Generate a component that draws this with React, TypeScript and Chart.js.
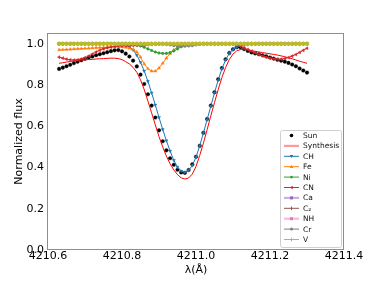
import React, { useEffect, useRef } from 'react';
import { Chart, registerables } from 'chart.js';

Chart.register(...registerables);

// ---- data ----
const wavelengths = [
  4210.63, 4210.64, 4210.65, 4210.66, 4210.67, 4210.68, 4210.69,
  4210.70, 4210.71, 4210.72, 4210.73, 4210.74, 4210.75, 4210.76, 4210.77, 4210.78, 4210.79,
  4210.80, 4210.81, 4210.82, 4210.83, 4210.84, 4210.85, 4210.86, 4210.87, 4210.88, 4210.89,
  4210.90, 4210.91, 4210.92, 4210.93, 4210.94, 4210.95, 4210.96, 4210.97, 4210.98, 4210.99,
  4211.00, 4211.01, 4211.02, 4211.03, 4211.04, 4211.05, 4211.06, 4211.07, 4211.08, 4211.09,
  4211.10, 4211.11, 4211.12, 4211.13, 4211.14, 4211.15, 4211.16, 4211.17, 4211.18, 4211.19,
  4211.20, 4211.21, 4211.22, 4211.23, 4211.24, 4211.25, 4211.26, 4211.27, 4211.28, 4211.29, 4211.30,
];

const sunFlux = [
  0.878, 0.884, 0.891, 0.898, 0.906, 0.913, 0.920,
  0.927, 0.933, 0.938, 0.944, 0.949, 0.954, 0.959, 0.964, 0.968, 0.969,
  0.963, 0.952, 0.938, 0.918, 0.890, 0.850, 0.805, 0.755, 0.700, 0.642,
  0.580, 0.527, 0.483, 0.445, 0.413, 0.389, 0.376, 0.374, 0.388, 0.415,
  0.452, 0.505, 0.568, 0.635, 0.700, 0.765, 0.828, 0.882, 0.925, 0.955,
  0.973, 0.983, 0.983, 0.974, 0.965, 0.958, 0.953, 0.949, 0.944, 0.939,
  0.933, 0.928, 0.922, 0.918, 0.913, 0.907, 0.899, 0.891, 0.880, 0.870, 0.860,
];

const synthesisFlux = [
  0.905, 0.908, 0.911, 0.914, 0.917, 0.919, 0.921,
  0.922, 0.923, 0.924, 0.926, 0.927, 0.928, 0.929, 0.930, 0.930, 0.928,
  0.923, 0.913, 0.902, 0.885, 0.862, 0.825, 0.778, 0.722, 0.665, 0.607,
  0.550, 0.500, 0.455, 0.418, 0.388, 0.365, 0.350, 0.344, 0.349, 0.368,
  0.405, 0.458, 0.518, 0.583, 0.650, 0.715, 0.778, 0.836, 0.885, 0.923,
  0.950, 0.965, 0.972, 0.973, 0.971, 0.967, 0.963, 0.960, 0.957, 0.954,
  0.951, 0.948, 0.945, 0.941, 0.937, 0.932, 0.927, 0.921, 0.915, 0.910, 0.905,
];

const chFlux = [
  1, 1, 1, 1, 1, 1, 1,
  1, 1, 1, 1, 1, 1, 1, 1, 1, 0.999,
  0.997, 0.993, 0.985, 0.970, 0.945, 0.910, 0.868, 0.818, 0.762, 0.703,
  0.643, 0.585, 0.530, 0.480, 0.435, 0.402, 0.383, 0.377, 0.386, 0.410,
  0.450, 0.505, 0.567, 0.632, 0.697, 0.762, 0.824, 0.878, 0.922, 0.953,
  0.972, 0.984, 0.990, 0.994, 0.996, 0.998, 0.999, 1, 1, 1,
  1, 1, 1, 1, 1, 1, 1, 1, 1, 1, 1,
];

const feFlux = [
  0.970, 0.971, 0.972, 0.973, 0.974, 0.975, 0.976,
  0.977, 0.978, 0.979, 0.980, 0.981, 0.982, 0.983, 0.984, 0.985, 0.985,
  0.984, 0.982, 0.978, 0.972, 0.960, 0.935, 0.902, 0.879, 0.867, 0.867,
  0.882, 0.905, 0.930, 0.952, 0.970, 0.984, 0.993, 0.997, 0.999, 1,
  1, 1, 1, 1, 1, 1, 1, 1, 1, 1,
  1, 1, 1, 1, 1, 1, 1, 1, 1, 1,
  1, 1, 1, 1, 1, 1, 1, 1, 1, 1, 1,
];

const niFlux = [
  1, 1, 1, 1, 1, 1, 1,
  1, 1, 1, 1, 1, 1, 1, 1, 1, 1,
  1, 0.999, 0.998, 0.996, 0.993, 0.989, 0.983, 0.975, 0.967, 0.960,
  0.955, 0.953, 0.953, 0.957, 0.965, 0.975, 0.985, 0.993, 0.997, 1,
  1, 1, 1, 1, 1, 1, 1, 1, 1, 1,
  1, 1, 1, 1, 1, 1, 1, 1, 1, 1,
  1, 1, 1, 1, 1, 1, 1, 1, 1, 1, 1,
];

const cnFlux = [
  0.935, 0.930, 0.925, 0.922, 0.921, 0.922, 0.926,
  0.932, 0.940, 0.950, 0.960, 0.968, 0.975, 0.980, 0.984, 0.987, 0.989,
  0.990, 0.990, 0.990, 0.991, 0.992, 0.993, 0.994, 0.995, 0.996, 0.997,
  0.998, 0.999, 1, 1, 1, 1, 1, 1, 1, 1,
  1, 1, 1, 1, 1, 1, 1, 1, 1, 1,
  0.998, 0.994, 0.988, 0.980, 0.972, 0.964, 0.956, 0.948, 0.941, 0.935,
  0.930, 0.927, 0.925, 0.925, 0.928, 0.933, 0.940, 0.948, 0.958, 0.968, 0.978,
];

const caFlux = [
  1, 1, 1, 1, 1, 1, 1,
  1, 1, 1, 1, 1, 1, 1, 1, 1, 1,
  1, 1, 1, 0.998, 0.995, 0.994, 0.995, 0.998, 1, 1,
  1, 1, 1, 1, 1, 1, 1, 1, 1, 1,
  1, 1, 1, 1, 1, 1, 1, 1, 1, 1,
  1, 1, 1, 1, 1, 1, 1, 1, 1, 1,
  1, 1, 1, 1, 1, 1, 1, 1, 1, 1, 1,
];

const c2Flux = [
  1, 1, 1, 1, 1, 1, 1,
  1, 1, 1, 1, 1, 1, 1, 1, 1, 1,
  1, 1, 1, 1, 1, 1, 1, 1, 1, 1,
  1, 1, 1, 1, 1, 1, 1, 1, 1, 1,
  1, 1, 1, 1, 1, 1, 1, 1, 1, 1,
  1, 1, 1, 1, 1, 1, 1, 1, 1, 1,
  1, 1, 1, 1, 1, 1, 1, 1, 1, 1, 1,
];

const nhFlux = [
  1, 1, 1, 1, 1, 1, 1,
  1, 1, 1, 1, 1, 1, 1, 1, 1, 1,
  1, 1, 1, 1, 1, 1, 1, 1, 1, 1,
  1, 1, 1, 1, 1, 1, 1, 1, 1, 1,
  1, 1, 1, 1, 1, 1, 1, 1, 1, 1,
  1, 1, 1, 1, 1, 1, 1, 1, 1, 1,
  1, 1, 1, 1, 1, 1, 1, 1, 1, 1, 1,
];

const crFlux = [
  1, 1, 1, 1, 1, 1, 1,
  1, 1, 1, 1, 1, 1, 1, 1, 1, 1,
  1, 1, 1, 1, 1, 1, 1, 1, 1, 1,
  1, 1, 0.998, 0.995, 0.992, 0.990, 0.989, 0.989, 0.990, 0.992,
  0.995, 0.998, 1, 1, 1, 1, 1, 1, 1, 1,
  1, 1, 1, 1, 1, 1, 1, 1, 1, 1,
  1, 1, 1, 1, 1, 1, 1, 1, 1, 1, 1,
];

const vFlux = [
  1, 1, 1, 1, 1, 1, 1,
  1, 1, 1, 1, 1, 1, 1, 1, 1, 1,
  1, 1, 1, 1, 1, 1, 1, 1, 1, 1,
  1, 1, 1, 1, 1, 1, 1, 1, 1, 1,
  1, 1, 1, 1, 1, 1, 1, 1, 1, 1,
  1, 1, 1, 1, 1, 1, 1, 1, 1, 1,
  1, 1, 1, 1, 1, 1, 1, 1, 1, 1, 1,
];

const xTicks = [4210.6, 4210.8, 4211.0, 4211.2, 4211.4];
const yTicks = [0.0, 0.2, 0.4, 0.6, 0.8, 1.0];

const seriesLabels = ['Sun', 'Synthesis', 'CH', 'Fe', 'Ni', 'CN', 'Ca', 'C₂', 'NH', 'Cr', 'V'];
const seriesValues = [sunFlux, synthesisFlux, chFlux, feFlux, niFlux, cnFlux, caFlux, c2Flux, nhFlux, crFlux, vFlux];

// ---- styles ----
type Sty = { color: string; line: boolean; shape: string; plotShape?: string; r: number; legendLine?: string; legendWidth?: number };
const styles: Sty[] = [
  { color: '#000000', line: false, shape: 'circle', r: 1.8 },
  { color: '#ff0000', line: true, shape: 'none', r: 0, legendLine: 'rgba(255,0,0,0.4)', legendWidth: 2.2 },
  { color: '#1f77b4', line: true, shape: 'tri-down', r: 1.8 },
  { color: '#ff7f0e', line: true, shape: 'tri-up', r: 1.8 },
  { color: '#2ca02c', line: true, shape: 'circle', r: 1.3 },
  { color: '#d62728', line: true, shape: 'tri-left', r: 1.8 },
  { color: '#9467bd', line: true, shape: 'square', r: 1.5, legendLine: 'rgba(148,103,189,0.5)', legendWidth: 2.2 },
  { color: '#8c564b', line: true, shape: 'vline', r: 1.8 },
  { color: '#e377c2', line: true, shape: 'square', r: 1.5, legendLine: 'rgba(227,119,194,0.5)', legendWidth: 2.2 },
  { color: '#7f7f7f', line: true, shape: 'circle', r: 1.5 },
  { color: '#bcbd22', line: true, shape: 'cross', plotShape: 'circle', r: 1.9 },
];

const FONT = '"DejaVu Sans", "Liberation Sans", sans-serif';

function cjsStyle(shape: string): { pointStyle: any; rotation: number } {
  switch (shape) {
    case 'tri-down': return { pointStyle: 'triangle', rotation: 180 };
    case 'tri-up': return { pointStyle: 'triangle', rotation: 0 };
    case 'tri-left': return { pointStyle: 'triangle', rotation: 270 };
    case 'square': return { pointStyle: 'rect', rotation: 0 };
    case 'vline': return { pointStyle: 'line', rotation: 90 };
    case 'cross': return { pointStyle: 'cross', rotation: 0 };
    default: return { pointStyle: 'circle', rotation: 0 };
  }
}

function drawShape(ctx: CanvasRenderingContext2D, shape: string, x: number, y: number, r: number, color: string) {
  ctx.save();
  ctx.fillStyle = color;
  ctx.strokeStyle = color;
  ctx.lineWidth = 1;
  ctx.beginPath();
  if (shape === 'circle') {
    ctx.arc(x, y, r, 0, Math.PI * 2);
    ctx.fill();
  } else if (shape === 'tri-down') {
    ctx.moveTo(x - r, y - r * 0.7); ctx.lineTo(x + r, y - r * 0.7); ctx.lineTo(x, y + r); ctx.closePath(); ctx.fill();
  } else if (shape === 'tri-up') {
    ctx.moveTo(x - r, y + r * 0.7); ctx.lineTo(x + r, y + r * 0.7); ctx.lineTo(x, y - r); ctx.closePath(); ctx.fill();
  } else if (shape === 'tri-left') {
    ctx.moveTo(x + r * 0.7, y - r); ctx.lineTo(x + r * 0.7, y + r); ctx.lineTo(x - r, y); ctx.closePath(); ctx.fill();
  } else if (shape === 'square') {
    ctx.rect(x - r, y - r, 2 * r, 2 * r); ctx.fill();
  } else if (shape === 'vline') {
    ctx.moveTo(x, y - r); ctx.lineTo(x, y + r); ctx.stroke();
  } else if (shape === 'cross') {
    ctx.moveTo(x - r, y); ctx.lineTo(x + r, y); ctx.moveTo(x, y - r); ctx.lineTo(x, y + r); ctx.stroke();
  }
  ctx.restore();
}

const framePlugin = {
  id: 'frame',
  afterDatasetsDraw(chart: any) {
    const { ctx, chartArea: a } = chart;
    ctx.save();
    ctx.strokeStyle = '#8e8e8e';
    ctx.lineWidth = 1;
    ctx.strokeRect(a.left - 0.5, a.top + 0.5, a.right - a.left, a.bottom - a.top - 1);
    ctx.restore();
  },
};

const legendPlugin = {
  id: 'customLegend',
  afterDraw(chart: any) {
    const ctx: CanvasRenderingContext2D = chart.ctx;
    const a = chart.chartArea;
    const bx = a.right - 63.5, by = a.top + 97.5, bw = 61, bh = 117;
    ctx.save();
    ctx.fillStyle = 'rgba(255,255,255,0.85)';
    ctx.strokeStyle = '#d0d0d0';
    ctx.lineWidth = 1;
    ctx.beginPath();
    if ((ctx as any).roundRect) (ctx as any).roundRect(bx, by, bw, bh, 2); else ctx.rect(bx, by, bw, bh);
    ctx.fill();
    ctx.stroke();
    ctx.font = '7.5px ' + FONT;
    ctx.textBaseline = 'middle';
    ctx.textAlign = 'left';
    seriesLabels.forEach((label, i) => {
      const s = styles[i];
      const y = by + 5 + i * 10.4;
      const x0 = bx + 3.5, x1 = bx + 18.5, xm = (x0 + x1) / 2;
      if (s.line) {
        ctx.strokeStyle = s.legendLine || s.color;
        ctx.lineWidth = s.legendWidth || 1;
        ctx.beginPath();
        ctx.moveTo(x0, y); ctx.lineTo(x1, y); ctx.stroke();
      }
      if (s.shape !== 'none') drawShape(ctx, s.shape, xm, y, Math.min(s.r, 1.8), s.color);
      ctx.fillStyle = '#111';
      ctx.fillText(label, bx + 22.5, y + 0.5);
    });
    ctx.restore();
  },
};

export default function App() {
  const ref = useRef<HTMLCanvasElement>(null);
  useEffect(() => {
    const datasets = seriesValues.map((vals, k) => {
      const s = styles[k];
      const shape = s.plotShape || s.shape;
      const ps = cjsStyle(shape);
      return {
        label: seriesLabels[k],
        data: wavelengths.map((x, i) => ({ x, y: vals[i] })),
        showLine: s.line,
        borderColor: s.color,
        backgroundColor: s.color,
        borderWidth: 1,
        pointRadius: s.r,
        pointStyle: ps.pointStyle,
        rotation: ps.rotation,
        pointBorderWidth: shape === 'cross' || shape === 'vline' ? 1 : 0.4,
        pointBorderColor: s.color,
        pointBackgroundColor: s.color,
        tension: 0,
        order: 30 - k,
      };
    });
    const chart = new Chart(ref.current as HTMLCanvasElement, {
      type: 'scatter',
      data: { datasets } as any,
      options: {
        responsive: false,
        animation: false,
        devicePixelRatio: 1,
        layout: { padding: { top: 33, right: 39, left: 0, bottom: 0 } },
        plugins: { legend: { display: false }, tooltip: { enabled: false } },
        scales: {
          x: {
            type: 'linear',
            min: xTicks[0],
            max: xTicks[xTicks.length - 1],
            afterBuildTicks: (scale: any) => { scale.ticks = xTicks.map((v) => ({ value: v })); },
            afterFit: (scale: any) => { scale.height = 31; },
            ticks: {
              callback: (v: any) => Number(v).toFixed(1),
              font: { family: FONT, size: 11 },
              color: '#000',
              padding: 0,
              maxRotation: 0,
              autoSkip: false,
            },
            grid: { display: false, drawTicks: false },
            border: { display: false },
            title: { display: true, text: 'λ(Å)', font: { family: FONT, size: 11 }, color: '#000', padding: { top: 0, bottom: 4 } },
          },
          y: {
            type: 'linear',
            min: 0,
            max: 1.052,
            afterBuildTicks: (scale: any) => { scale.ticks = yTicks.map((v) => ({ value: v })); },
            afterFit: (scale: any) => { scale.width = 48; },
            ticks: {
              callback: (v: any) => Number(v).toFixed(1),
              font: { family: FONT, size: 11 },
              color: '#000',
              padding: 4,
            },
            grid: { display: false, drawTicks: false },
            border: { display: false },
            title: { display: true, text: 'Normalized flux', font: { family: FONT, size: 11 }, color: '#000', padding: { top: 13, bottom: 0 } },
          },
        },
      } as any,
      plugins: [framePlugin, legendPlugin],
    });
    return () => chart.destroy();
  }, []);
  return (
    <div style={{ position: 'absolute', left: 0, top: 0, width: 383, height: 281, background: '#fff' }}>
      <canvas ref={ref} width={383} height={281} style={{ display: 'block', width: 383, height: 281 }} />
    </div>
  );
}
